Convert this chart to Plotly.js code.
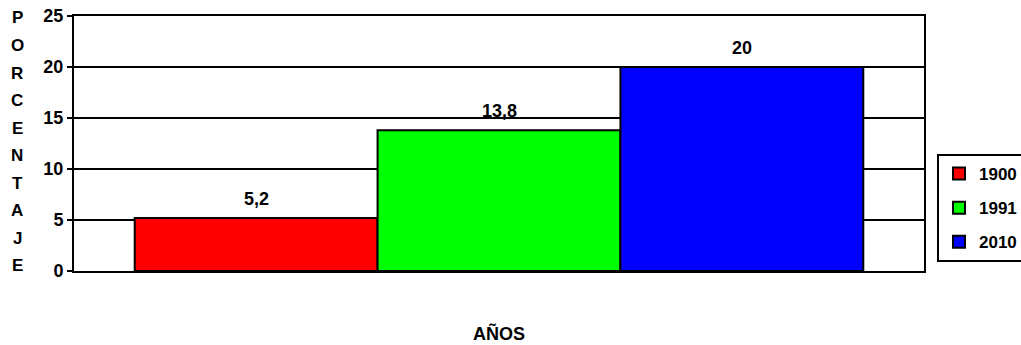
<!DOCTYPE html>
<html>
<head>
<meta charset="utf-8">
<script src="https://cdn.plot.ly/plotly-3.0.1.min.js"></script>
<style>html,body{margin:0;padding:0;background:#fff;}</style>
</head>
<body>
<div id="chart" style="width:1021px;height:345px;"></div>
<script>
const categories = ['1900', '1991', '2010'];
const values = [5.2, 13.8, 20];
const colors = ['#ff0000', '#00ff00', '#0000ff'];
const yTicks = [0, 5, 10, 15, 20, 25];
const yTitleLetters = ['P','O','R','C','E','N','T','A','J','E'];
const xTitle = 'AÑOS';

const FONT = 'Liberation Sans, Arial, sans-serif';
const FS = 18;
const b = s => '<b>' + s + '</b>';

const traces = categories.map((c, i) => ({
  type: 'bar',
  name: b(c),
  x: [i],
  y: [values[i]],
  legendgroup: 'g' + i,
  marker: { color: colors[i], line: { color: '#000', width: 2 } },
  hoverinfo: 'none'
}));

const annotations = categories.map((c, i) => ({
  x: i, y: values[i], xref: 'x', yref: 'y',
  text: b(values[i].toString().replace('.', ',')),
  showarrow: false, yanchor: 'bottom', yshift: 7,
  font: { family: FONT, size: FS, color: '#000' }
}));

yTitleLetters.forEach((l, i) => {
  annotations.push({
    xref: 'paper', yref: 'paper',
    x: (17 - 74) / 850, y: (271 - (18 + i * 27.55)) / 255,
    text: b(l), showarrow: false, xanchor: 'center', yanchor: 'middle',
    font: { family: FONT, size: 17, color: '#000' }
  });
});

annotations.push({
  xref: 'paper', yref: 'paper', x: 0.5, y: (271 - 333) / 255,
  text: b(xTitle), showarrow: false, xanchor: 'center', yanchor: 'middle',
  font: { family: FONT, size: FS, color: '#000' }
});

const layout = {
  width: 1021, height: 345,
  margin: { l: 74, r: 97, t: 16, b: 74, pad: 0, autoexpand: false },
  paper_bgcolor: '#fff', plot_bgcolor: '#fff',
  font: { family: FONT, size: FS, color: '#000' },
  barmode: 'overlay', bargap: 0,
  showlegend: true,
  legend: {
    x: (937 - 74) / 850, y: (271 - 154) / 255, xanchor: 'left', yanchor: 'top',
    bordercolor: '#000', borderwidth: 2, bgcolor: '#fff',
    font: { family: FONT, size: 17, color: '#000' },
    traceorder: 'grouped', tracegroupgap: 9
  },
  xaxis: {
    type: 'linear', range: [-0.75, 2.75], fixedrange: true,
    showticklabels: false, ticks: '', showgrid: false, zeroline: false,
    showline: true, linecolor: '#000', linewidth: 2, mirror: true
  },
  yaxis: {
    range: [0, 25], tickvals: yTicks, ticktext: yTicks.map(v => b(v)),
    ticks: 'outside', ticklen: 5, tickwidth: 2, tickcolor: '#000',
    showgrid: true, gridcolor: '#000', gridwidth: 2, zeroline: false,
    showline: true, linecolor: '#000', linewidth: 2, mirror: true,
    tickfont: { family: FONT, size: FS, color: '#000' }
  },
  annotations: annotations
};

Plotly.newPlot('chart', traces, layout, { displayModeBar: false, staticPlot: true });
</script>
</body>
</html>
